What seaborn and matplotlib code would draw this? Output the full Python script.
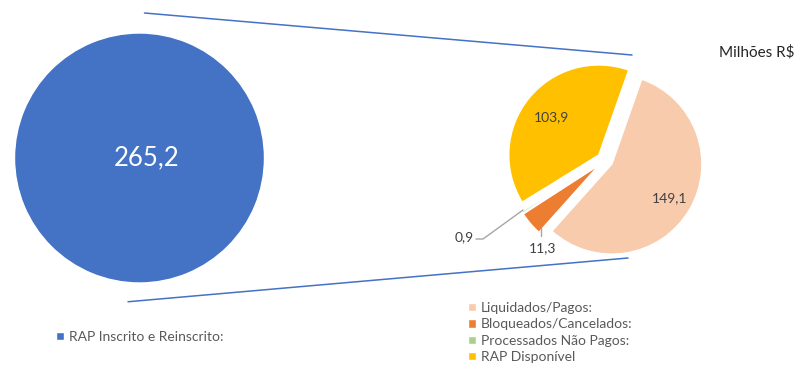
import numpy as np
import seaborn as sns
import matplotlib.pyplot as plt

# dados (milhões R$)
total_label = ["RAP Inscrito e Reinscrito:"]
total_value = [265.2]
categorias = ["Liquidados/Pagos:", "Bloqueados/Cancelados:", "Processados Não Pagos:", "RAP Disponível"]
valores = [149.1, 11.3, 0.9, 103.9]


def fmt(v):
    return f"{v:.1f}".replace(".", ",")


sns.set_theme(style="white")
plt.rcParams["font.family"] = ["Lato", "DejaVu Sans"]

cor_total = sns.color_palette(["#4472C4"])
cores = sns.color_palette(["#F8CBAD", "#ED7D31", "#A9D18E", "#FFC000"])

W, H = 806, 367
fig = plt.figure(figsize=(W / 100, H / 100), dpi=100)
ax = fig.add_axes([0, 0, 1, 1])

# geometria (unidades em pixels, y para cima)
c1, r1 = (139.5, H - 158), 125
c2, r2 = (605, H - 160), 90
expl = 8

# círculo grande
w1, _ = ax.pie(total_value, center=c1, radius=r1, colors=cor_total,
               startangle=90, frame=True)
ax.text(c1[0] + 7, c1[1], fmt(total_value[0]), color="white", fontsize=18.5,
        ha="center", va="center")

# pizza detalhada
w2, _, auto = ax.pie(valores, center=c2, radius=r2, colors=cores,
                     startangle=70.6, counterclock=False, explode=[expl] * 4,
                     autopct=lambda p: fmt(p * sum(valores) / 100), pctdistance=0.67,
                     wedgeprops=dict(edgecolor="white", linewidth=1),
                     textprops=dict(color="#404040", fontsize=10), frame=True)

# rótulo da fatia maior um pouco mais para fora
wp = w2[0]
tm = np.deg2rad((wp.theta1 + wp.theta2) / 2)
auto[0].set_position((wp.center[0] + 0.74 * r2 * np.cos(tm), wp.center[1] + 0.74 * r2 * np.sin(tm)))

# rótulos com linha guia para as fatias pequenas
auto[1].set_visible(False)
auto[2].set_visible(False)
guia = dict(color="#A6A6A6", lw=1)
ax.plot([c2[0] - 64, c2[0] - 64], [c2[1] - 68, c2[1] - 76], **guia)
ax.text(c2[0] - 62, c2[1] - 88, fmt(valores[1]), ha="center", va="center",
        fontsize=10, color="#404040")
ax.plot([c2[0] - 129, c2[0] - 122, c2[0] - 82], [c2[1] - 79, c2[1] - 79, c2[1] - 50], **guia)
ax.text(c2[0] - 141, c2[1] - 77, fmt(valores[2]), ha="center", va="center",
        fontsize=10, color="#404040")

# linhas de ligação
ax.plot([c1[0] + 5, c2[0] + 27], [c1[1] + 1.16 * r1, c2[1] + 105], color="#4472C4", lw=1.1)
ax.plot([c1[0] - 11.5, c2[0] + 23], [c1[1] - 1.15 * r1, c2[1] - 98], color="#4472C4", lw=1.1)

ax.text(757, H - 52, "Milhões R$", ha="center", va="center", fontsize=11, color="#262626")

ax.set_xlim(0, W)
ax.set_ylim(0, H)
ax.set_aspect("equal")
ax.set_axis_off()

leg1 = ax.legend(w1, total_label, loc="center left", bbox_to_anchor=(56 / W, 1 - 337 / H),
                 frameon=False, fontsize=10, handlelength=0.55, handleheight=0.55,
                 handletextpad=0.4, labelcolor="#595959", borderaxespad=0, borderpad=0)
ax.add_artist(leg1)
ax.legend(w2, categorias, loc="upper left", bbox_to_anchor=(468 / W, 1 - 302 / H),
          frameon=False, fontsize=10, handlelength=0.55, handleheight=0.55,
          handletextpad=0.4, labelspacing=0.31, labelcolor="#595959", borderaxespad=0, borderpad=0)

fig.savefig("out.png", dpi=100)
